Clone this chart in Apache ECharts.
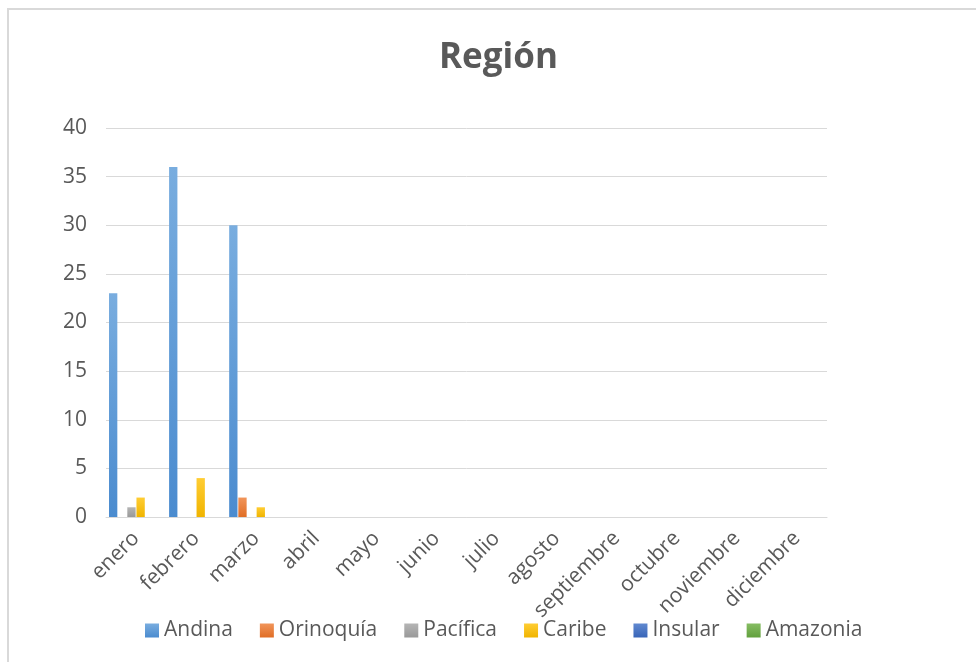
<!DOCTYPE html>
<html>
<head>
<meta charset="utf-8">
<script src="https://cdn.jsdelivr.net/npm/echarts@6/dist/echarts.min.js"></script>
<style>
html,body{margin:0;padding:0;background:#fff;}
#chart{width:976px;height:662px;}
</style>
</head>
<body>
<div id="chart"></div>
<script>
const categories = ['enero','febrero','marzo','abril','mayo','junio','julio','agosto','septiembre','octubre','noviembre','diciembre'];
const seriesNames = ['Andina','Orinoquía','Pacífica','Caribe','Insular','Amazonia'];
const andina    = [23, 36, 30, 0, 0, 0, 0, 0, 0, 0, 0, 0];
const orinoquia = [0, 0, 2, 0, 0, 0, 0, 0, 0, 0, 0, 0];
const pacifica  = [1, 0, 0, 0, 0, 0, 0, 0, 0, 0, 0, 0];
const caribe    = [2, 4, 1, 0, 0, 0, 0, 0, 0, 0, 0, 0];
const insular   = [0, 0, 0, 0, 0, 0, 0, 0, 0, 0, 0, 0];
const amazonia  = [0, 0, 0, 0, 0, 0, 0, 0, 0, 0, 0, 0];
const yTicks = [0, 5, 10, 15, 20, 25, 30, 35, 40];

const allData = [andina, orinoquia, pacifica, caribe, insular, amazonia];
const colors = [
  ['#79addf', '#4a8bcf', '#5b9bd5'],
  ['#f1955a', '#e06d25', '#ed7d31'],
  ['#b5b5b5', '#999999', '#a5a5a5'],
  ['#ffcd33', '#f0b400', '#ffc000'],
  ['#6189d0', '#3865b8', '#4472c4'],
  ['#86bd63', '#62a03d', '#70ad47']
];

const chart = echarts.init(document.getElementById('chart'));
const font = '"Open Sans", sans-serif';
chart.setOption({
  backgroundColor: '#ffffff',
  animation: false,
  title: {
    text: 'Región',
    left: 434,
    top: 36,
    textStyle: { fontFamily: font, fontSize: 35, fontWeight: 'bold', color: '#595959' }
  },
  graphic: [{
    type: 'rect',
    shape: { x: 8, y: 9, width: 1000, height: 1000 },
    style: { fill: 'none', stroke: '#d9d9d9', lineWidth: 2 },
    silent: true
  }],
  legend: {
    bottom: 16,
    left: 140,
    itemWidth: 14,
    itemHeight: 14,
    itemGap: 27,
    icon: 'rect',
    textStyle: { fontFamily: font, fontSize: 21, color: '#595959' },
    data: seriesNames
  },
  grid: { left: 106, right: 149, top: 128, bottom: 145, containLabel: false },
  xAxis: {
    type: 'category',
    data: categories,
    axisLine: { lineStyle: { color: '#d9d9d9', width: 1 } },
    axisTick: { show: false },
    axisLabel: { rotate: 45, interval: 0, margin: 18, fontFamily: font, fontSize: 21, color: '#595959' }
  },
  yAxis: {
    type: 'value',
    min: yTicks[0],
    max: yTicks[yTicks.length - 1],
    interval: yTicks[1] - yTicks[0],
    axisLine: { show: false },
    axisTick: { show: false },
    splitLine: { lineStyle: { color: '#d9d9d9', width: 1 } },
    axisLabel: { margin: 19, fontFamily: font, fontSize: 21, color: '#595959' }
  },
  series: seriesNames.map((name, i) => ({
    name: name,
    type: 'bar',
    data: allData[i],
    barGap: '10%',
    barCategoryGap: '10%',
    itemStyle: {
      color: new echarts.graphic.LinearGradient(0, 0, 0, 1, [
        { offset: 0, color: colors[i][0] },
        { offset: 1, color: colors[i][1] }
      ])
    },
    emphasis: { disabled: true }
  })),
  color: colors.map(c => c[2])
});
</script>
</body>
</html>
